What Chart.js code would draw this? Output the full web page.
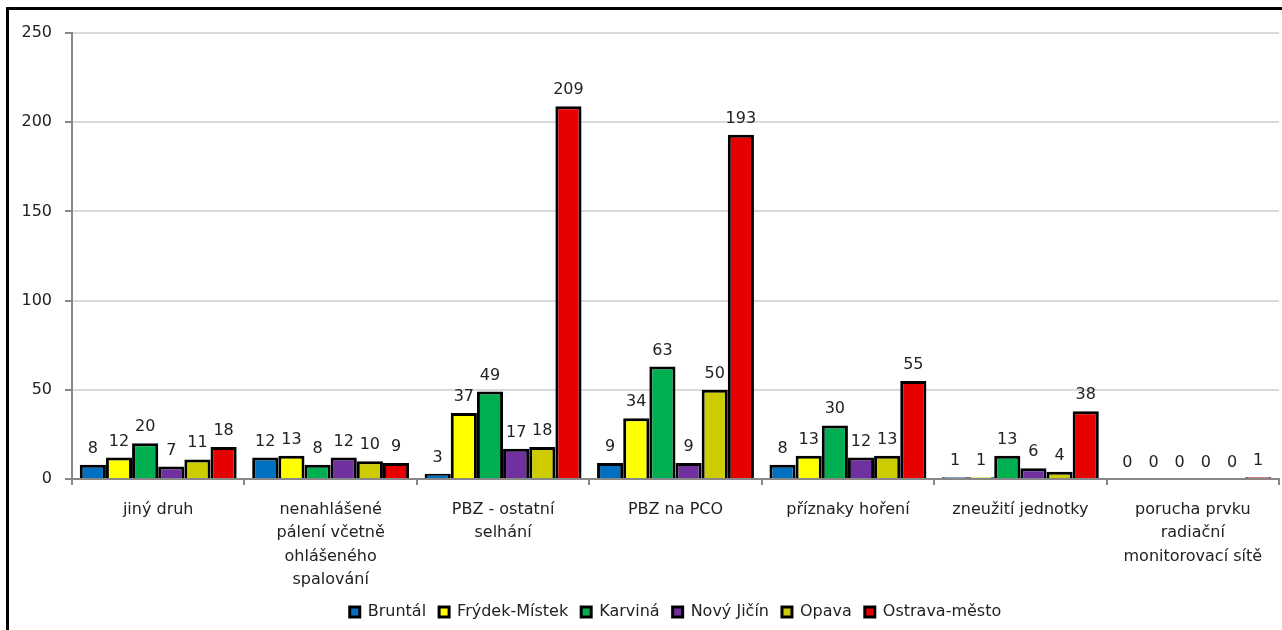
<!DOCTYPE html>
<html>
<head>
<meta charset="utf-8">
<script src="https://cdn.jsdelivr.net/npm/chart.js@4/dist/chart.umd.min.js"></script>
<style>
  html, body { margin: 0; padding: 0; background: #fff; overflow: hidden; }
  #wrap { position: relative; width: 1282px; height: 630px; }
  #frame { position: absolute; left: 6px; top: 7px; width: 1290px; height: 640px;
           border-left: 3px solid #000; border-top: 3px solid #000; pointer-events: none; }
</style>
</head>
<body>
<div id="wrap">
  <canvas id="chart" width="1282" height="630"></canvas>
  <div id="frame"></div>
</div>
<script>
const categories = [
  "jiný druh",
  ["nenahlášené", "pálení včetně", "ohlášeného", "spalování"],
  ["PBZ - ostatní", "selhání"],
  "PBZ na PCO",
  "příznaky hoření",
  "zneužití jednotky",
  ["porucha prvku", "radiační", "monitorovací sítě"],
];

const bruntal   = [8, 12, 3, 9, 8, 1, 0];
const frydek    = [12, 13, 37, 34, 13, 1, 0];
const karvina   = [20, 8, 49, 63, 30, 13, 0];
const novyJicin = [7, 12, 17, 9, 12, 6, 0];
const opava     = [11, 10, 18, 50, 13, 4, 0];
const ostrava   = [18, 9, 209, 193, 55, 38, 1];

const seriesNames = ["Bruntál", "Frýdek-Místek", "Karviná", "Nový Jičín", "Opava", "Ostrava-město"];
const seriesData = [bruntal, frydek, karvina, novyJicin, opava, ostrava];
const seriesColors = ["#0070c0", "#ffff00", "#00b050", "#7030a0", "#cccc00", "#e60000"];

const FONT = "'DejaVu Sans', sans-serif";
const TEXT = "#222";

// value labels above each bar
const valueLabels = {
  id: "valueLabels",
  afterDatasetsDraw(chart) {
    const ctx = chart.ctx;
    ctx.save();
    ctx.font = "16px " + FONT;
    ctx.fillStyle = TEXT;
    ctx.textAlign = "center";
    ctx.textBaseline = "alphabetic";
    chart.data.datasets.forEach((ds, i) => {
      chart.getDatasetMeta(i).data.forEach((bar, j) => {
        ctx.fillText(String(ds.data[j]), bar.x, bar.y - 12);
      });
    });
    ctx.restore();
  },
};

new Chart(document.getElementById("chart"), {
  type: "bar",
  data: {
    labels: categories,
    datasets: seriesNames.map((name, i) => ({
      label: name,
      data: seriesData[i],
      backgroundColor: seriesColors[i],
      borderColor: "#000",
      borderWidth: 3,
      borderSkipped: "bottom",
      categoryPercentage: 0.91,
      barPercentage: 1.0,
    })),
  },
  plugins: [valueLabels],
  options: {
    responsive: false,
    animation: false,
    layout: { padding: { top: 33, right: 3, left: 0, bottom: 0 } },
    plugins: {
      legend: {
        position: "bottom",
        fullSize: false,
        labels: {
          boxWidth: 10,
          boxHeight: 10,
          padding: 13,
          color: TEXT,
          font: { family: FONT, size: 16 },
        },
      },
      tooltip: { enabled: false },
    },
    scales: {
      x: {
        afterFit: (scale) => { scale.height = 112; },
        grid: {
          offset: true,
          drawOnChartArea: false,
          drawTicks: true,
          tickLength: 6,
          color: "#888",
          lineWidth: 2,
        },
        border: { display: true, color: "#888", width: 2 },
        ticks: {
          color: TEXT,
          font: { family: FONT, size: 16, lineHeight: 1.47 },
          padding: 13,
          maxRotation: 0,
          autoSkip: false,
        },
      },
      y: {
        min: 0,
        max: 250,
        afterFit: (scale) => { scale.width = 72; },
        grid: {
          color: "#d9d9d9",
          lineWidth: 2,
          tickColor: "#888",
          tickLength: 7,
        },
        border: { display: true, color: "#888", width: 2 },
        ticks: {
          stepSize: 50,
          color: TEXT,
          padding: 13,
          font: { family: FONT, size: 16 },
        },
      },
    },
  },
});
</script>
</body>
</html>
